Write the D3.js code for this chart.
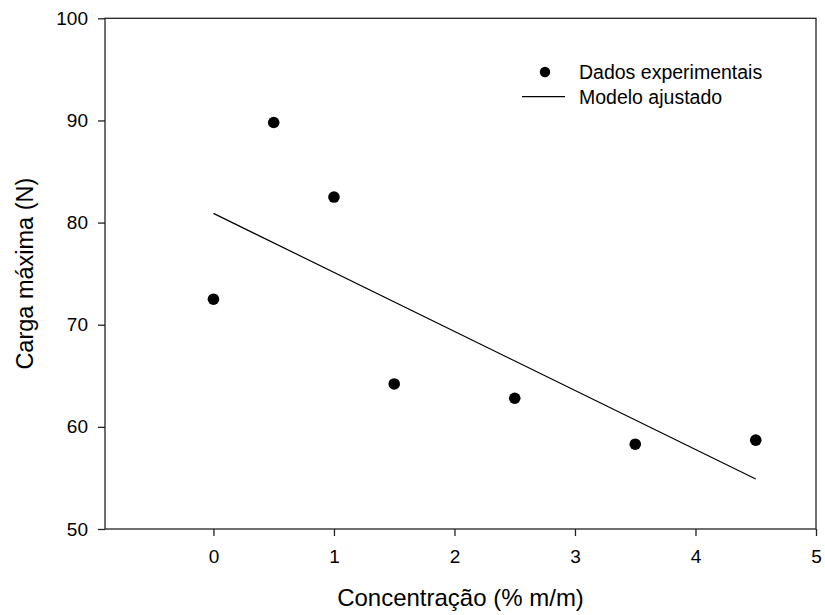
<!DOCTYPE html>
<html>
<head>
<meta charset="utf-8">
<script src="https://cdn.jsdelivr.net/npm/d3@7"></script>
<style>
  html, body { margin: 0; padding: 0; background: #fff; }
  svg { display: block; font-family: "Liberation Sans", Arial, sans-serif; }
</style>
</head>
<body>
<svg id="chart" width="825" height="615"></svg>
<script>
// Concentration (% m/m) and measured maximum load (N)
const concentration = [0, 0.5, 1, 1.5, 2.5, 3.5, 4.5];
const maxLoad = [72.5, 89.8, 82.5, 64.2, 62.8, 58.3, 58.7];

// Fitted linear model, drawn from its two end points
const modelX = [0, 4.5];
const modelY = [80.9, 54.9];

const xTicks = [0, 1, 2, 3, 4, 5];
const yTicks = [50, 60, 70, 80, 90, 100];

const legendLabels = ["Dados experimentais", "Modelo ajustado"];

const margin = { left: 105, right: 9, top: 18.3, bottom: 86 };
const W = 825, H = 615;
const FONT = "Liberation Sans, Arial, sans-serif";

const svg = d3.select("#chart");

const x = d3.scaleLinear().domain([-0.9, 5]).range([margin.left, W - margin.right]);
const y = d3.scaleLinear().domain([50, 100]).range([H - margin.bottom, margin.top]);

const axisColor = "#222";

// Frame around the plot area
svg.append("rect")
  .attr("x", x(-0.9)).attr("y", y(100))
  .attr("width", x(5) - x(-0.9)).attr("height", y(50) - y(100))
  .attr("fill", "none").attr("stroke", axisColor).attr("stroke-width", 1.3);

// Bottom axis
const xAxis = svg.append("g")
  .attr("transform", `translate(0,${y(50)})`)
  .call(d3.axisBottom(x).tickValues(xTicks).tickFormat(d3.format("d"))
    .tickSize(7).tickPadding(14).tickSizeOuter(0));
xAxis.select(".domain").remove();
xAxis.selectAll("line").attr("stroke", axisColor).attr("stroke-width", 1.3);
xAxis.selectAll("text").attr("font-size", 19).attr("fill", "#000").attr("font-family", FONT);

// Left axis
const yAxis = svg.append("g")
  .attr("transform", `translate(${x(-0.9)},0)`)
  .call(d3.axisLeft(y).tickValues(yTicks).tickFormat(d3.format("d"))
    .tickSize(7).tickPadding(10).tickSizeOuter(0));
yAxis.select(".domain").remove();
yAxis.selectAll("line").attr("stroke", axisColor).attr("stroke-width", 1.3);
yAxis.selectAll("text").attr("font-size", 19).attr("fill", "#000").attr("font-family", FONT);

// Axis titles
svg.append("text")
  .attr("x", (x(-0.9) + x(5)) / 2).attr("y", 606)
  .attr("text-anchor", "middle").attr("font-size", 24).attr("fill", "#000")
  .attr("font-family", FONT)
  .text("Concentração (% m/m)");

svg.append("text")
  .attr("transform", `translate(33,${(y(50) + y(100)) / 2}) rotate(-90)`)
  .attr("text-anchor", "middle").attr("font-size", 23.5).attr("fill", "#000")
  .attr("font-family", FONT)
  .text("Carga máxima (N)");

// Fitted model line
const line = d3.line().x(d => x(d[0])).y(d => y(d[1]));
svg.append("path")
  .datum(d3.zip(modelX, modelY))
  .attr("d", line)
  .attr("fill", "none").attr("stroke", "#000").attr("stroke-width", 1.2);

// Experimental points
svg.append("g").selectAll("circle")
  .data(d3.zip(concentration, maxLoad))
  .join("circle")
  .attr("cx", d => x(d[0])).attr("cy", d => y(d[1]))
  .attr("r", 5.8).attr("fill", "#000");

// Legend
const legend = svg.append("g");
legend.append("circle").attr("cx", 545).attr("cy", 72).attr("r", 5.2).attr("fill", "#000");
legend.append("line").attr("x1", 522).attr("x2", 565).attr("y1", 96.7).attr("y2", 96.7)
  .attr("stroke", "#000").attr("stroke-width", 1.2);
legend.selectAll("text")
  .data(legendLabels)
  .join("text")
  .attr("x", 579).attr("y", (d, i) => 72 + i * 24.7)
  .attr("dy", "0.35em").attr("font-size", 19.5).attr("fill", "#000")
  .attr("font-family", FONT)
  .text(d => d);
</script>
</body>
</html>
